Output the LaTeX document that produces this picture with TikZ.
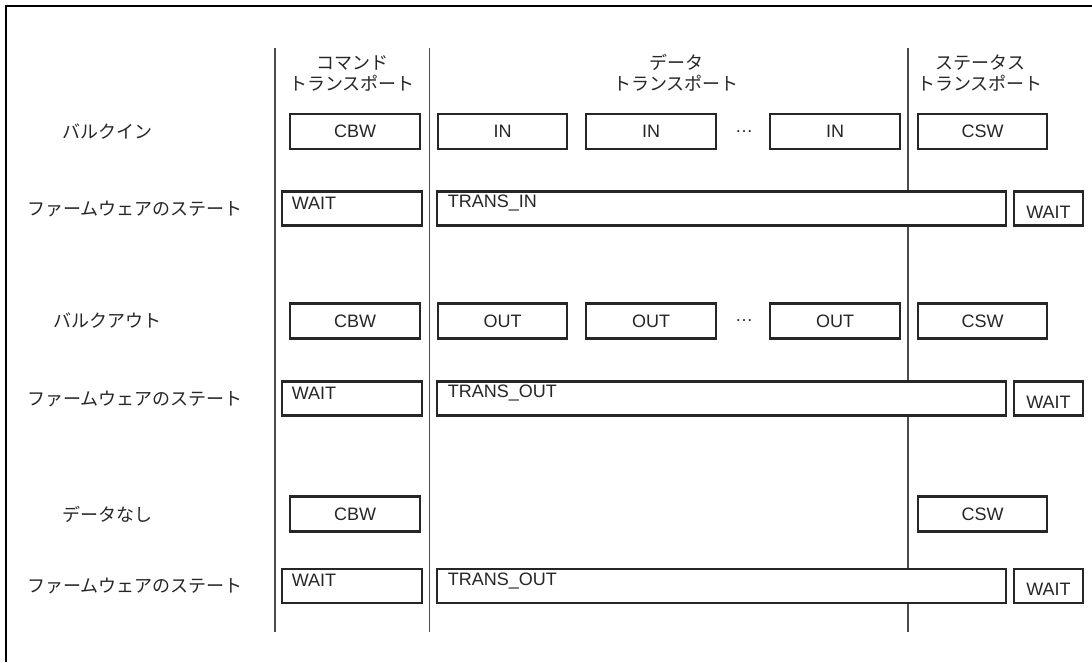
\documentclass[tikz,border=0pt]{standalone}
\usepackage{fontspec}
\setmainfont{Liberation Sans}
\newfontfamily\jpfont{Noto Sans CJK JP}
\begin{document}
\begin{tikzpicture}[x=1pt,y=-1pt,
	pkt/.style={draw=black!85,line width=2.6pt,fill=white,inner sep=0pt,minimum height=35pt,text=black!85,font=\fontsize{18}{20}\selectfont},
	st/.style={pkt,minimum height=34pt},
	stxt/.style={anchor=west,inner sep=0pt,text=black!85,font=\fontsize{18}{20}\selectfont},
	rowlbl/.style={inner sep=0pt,text=black!85,font=\jpfont\fontsize{18}{20}\selectfont},
	hdr/.style={rowlbl,align=center,font=\jpfont\fontsize{18}{21}\selectfont},
	sep/.style={draw=black!70,line width=1.1pt}]
	\useasboundingbox (0,0) rectangle (1092,662);
	\draw[line width=2.2pt] (6,662) -- (6,6) -- (1092,6);
	\coordinate (s1t) at (275,48);  \coordinate (s1b) at (275,632);
	\coordinate (s2t) at (429.5,48); \coordinate (s2b) at (429.5,632);
	\coordinate (s3t) at (908,48);  \coordinate (s3b) at (908,632);
	\draw[sep] (s1t) -- (s1b);
	\draw[sep] (s2t) -- (s2b);
	\draw[sep] (s3t) -- (s3b);
	\node[hdr] (hcmd) at (352,73) {コマンド\\トランスポート};
	\node[hdr] (hdat) at (676,73) {データ\\トランスポート};
	\node[hdr] (hsts) at (980,73) {ステータス\\トランスポート};
	\node[rowlbl] (lin) at (107,131.5) {バルクイン};
	\node[pkt,minimum width=130pt] (in0) at (355,131.5) {CBW};
	\node[pkt,minimum width=129pt] (in1) at (502.5,131.5) {IN};
	\node[pkt,minimum width=130pt] (in2) at (651,131.5) {IN};
	\node[inner sep=0pt,text=black!85,font=\fontsize{18}{20}\selectfont] (indots) at (744,131.5) {\ldots};
	\node[pkt,minimum width=130pt] (in3) at (835,131.5) {IN};
	\node[pkt,minimum width=129pt] (in4) at (982.5,131.5) {CSW};
	\node[rowlbl] (lfw1) at (135,208.5) {ファームウェアのステート};
	\node[st,minimum width=140pt] (fw1a) at (352,208.5) {};
	\node[stxt] (tw1a) at ([xshift=11pt,yshift=-13pt]fw1a.north west) {WAIT};
	\node[st,minimum width=569pt] (fw1b) at (721.5,208.5) {};
	\node[stxt] (tw1b) at ([xshift=12pt,yshift=-13pt]fw1b.north west) {TRANS\_IN};
	\node[st,minimum width=69pt] (fw1c) at (1048.5,208.5) {};
	\node[stxt,anchor=center] (tw1c) at ([yshift=-3.5pt]fw1c.center) {WAIT};
	\node[rowlbl] (lout) at (107,321) {バルクアウト};
	\node[pkt,minimum width=130pt] (out0) at (355,321) {CBW};
	\node[pkt,minimum width=129pt] (out1) at (502.5,321) {OUT};
	\node[pkt,minimum width=130pt] (out2) at (651,321) {OUT};
	\node[inner sep=0pt,text=black!85,font=\fontsize{18}{20}\selectfont] (outdots) at (744,321) {\ldots};
	\node[pkt,minimum width=130pt] (out3) at (835,321) {OUT};
	\node[pkt,minimum width=129pt] (out4) at (982.5,321) {CSW};
	\node[rowlbl] (lfw2) at (135,398.5) {ファームウェアのステート};
	\node[st,minimum width=140pt] (fw2a) at (352,398.5) {};
	\node[stxt] (tw2a) at ([xshift=11pt,yshift=-13pt]fw2a.north west) {WAIT};
	\node[st,minimum width=569pt] (fw2b) at (721.5,398.5) {};
	\node[stxt] (tw2b) at ([xshift=12pt,yshift=-13pt]fw2b.north west) {TRANS\_OUT};
	\node[st,minimum width=69pt] (fw2c) at (1048.5,398.5) {};
	\node[stxt,anchor=center] (tw2c) at ([yshift=-3.5pt]fw2c.center) {WAIT};
	\node[rowlbl] (lnd) at (107,514) {データなし};
	\node[pkt,minimum width=130pt] (nd0) at (355,514) {CBW};
	\node[pkt,minimum width=129pt] (nd4) at (982.5,514) {CSW};
	\node[rowlbl] (lfw3) at (135,586) {ファームウェアのステート};
	\node[st,minimum width=140pt] (fw3a) at (352,586) {};
	\node[stxt] (tw3a) at ([xshift=11pt,yshift=-13pt]fw3a.north west) {WAIT};
	\node[st,minimum width=569pt] (fw3b) at (721.5,586) {};
	\node[stxt] (tw3b) at ([xshift=12pt,yshift=-13pt]fw3b.north west) {TRANS\_OUT};
	\node[st,minimum width=69pt] (fw3c) at (1048.5,586) {};
	\node[stxt,anchor=center] (tw3c) at ([yshift=-3.5pt]fw3c.center) {WAIT};
\end{tikzpicture}
\end{document}
